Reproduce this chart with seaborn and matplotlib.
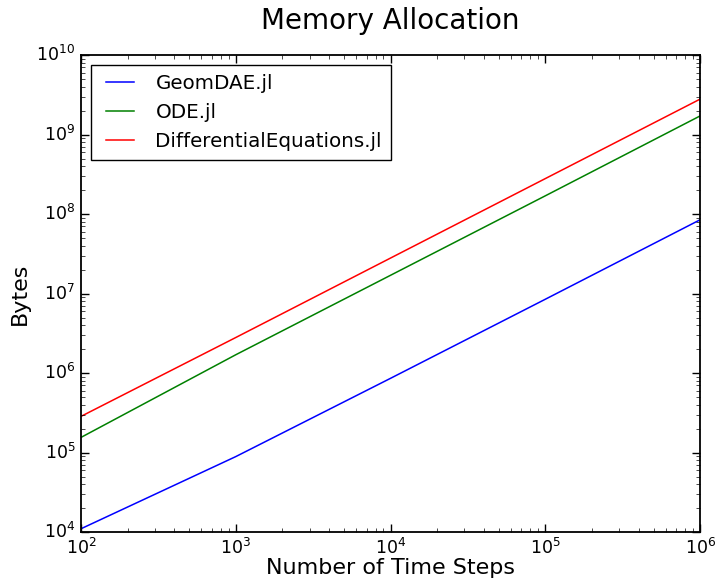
import matplotlib
matplotlib.use("Agg")
import matplotlib.pyplot as plt
import seaborn as sns
import pandas as pd

steps = [1e2, 1e3, 1e4, 1e5, 1e6]
geomdae = [1.1e4, 8.9e4, 8.6e5, 8.5e6, 8.5e7]
ode = [1.55e5, 1.7e6, 1.7e7, 1.7e8, 1.72e9]
diffeq = [2.85e5, 2.8e6, 2.8e7, 2.8e8, 2.8e9]
labels = ["GeomDAE.jl", "ODE.jl", "DifferentialEquations.jl"]
colors = ["#0000ff", "#008000", "#ff0000"]

rows = []
for lab, vals in zip(labels, [geomdae, ode, diffeq]):
    for s, v in zip(steps, vals):
        rows.append({"steps": s, "bytes": v, "package": lab})
df = pd.DataFrame(rows)

plt.style.use("classic")
plt.rcParams["font.family"] = ["DejaVu Sans"]

fig = plt.figure(figsize=(7.16, 5.86), dpi=100, facecolor="white")
ax = fig.add_axes([0.113, 0.092, 0.865, 0.814])
sns.lineplot(data=df, x="steps", y="bytes", hue="package", hue_order=labels,
             palette=colors, ax=ax, linewidth=1.1, legend=True)
ax.set_xscale("log")
ax.set_yscale("log")
ax.set_xlim(1e2, 1e6)
ax.set_ylim(1e4, 1e10)
ax.set_title("Memory Allocation", fontsize=20, pad=19)
ax.set_xlabel("Number of Time Steps", fontsize=16, labelpad=0)
ax.set_ylabel("Bytes", fontsize=16)
for s in ax.spines.values():
    s.set_linewidth(1.3)
ax.tick_params(axis="both", which="major", labelsize=12.5, length=6, width=1, direction="in", pad=4)
ax.tick_params(axis="both", which="minor", length=3, direction="in")
leg = ax.legend(loc="upper left", fontsize=14.3, frameon=True, fancybox=False,
                handlelength=2.0, handletextpad=0.8, borderpad=0.45)
leg.get_frame().set_edgecolor("black")
leg.get_frame().set_linewidth(1.0)
fig.savefig("out.png", dpi=100, facecolor="white")
